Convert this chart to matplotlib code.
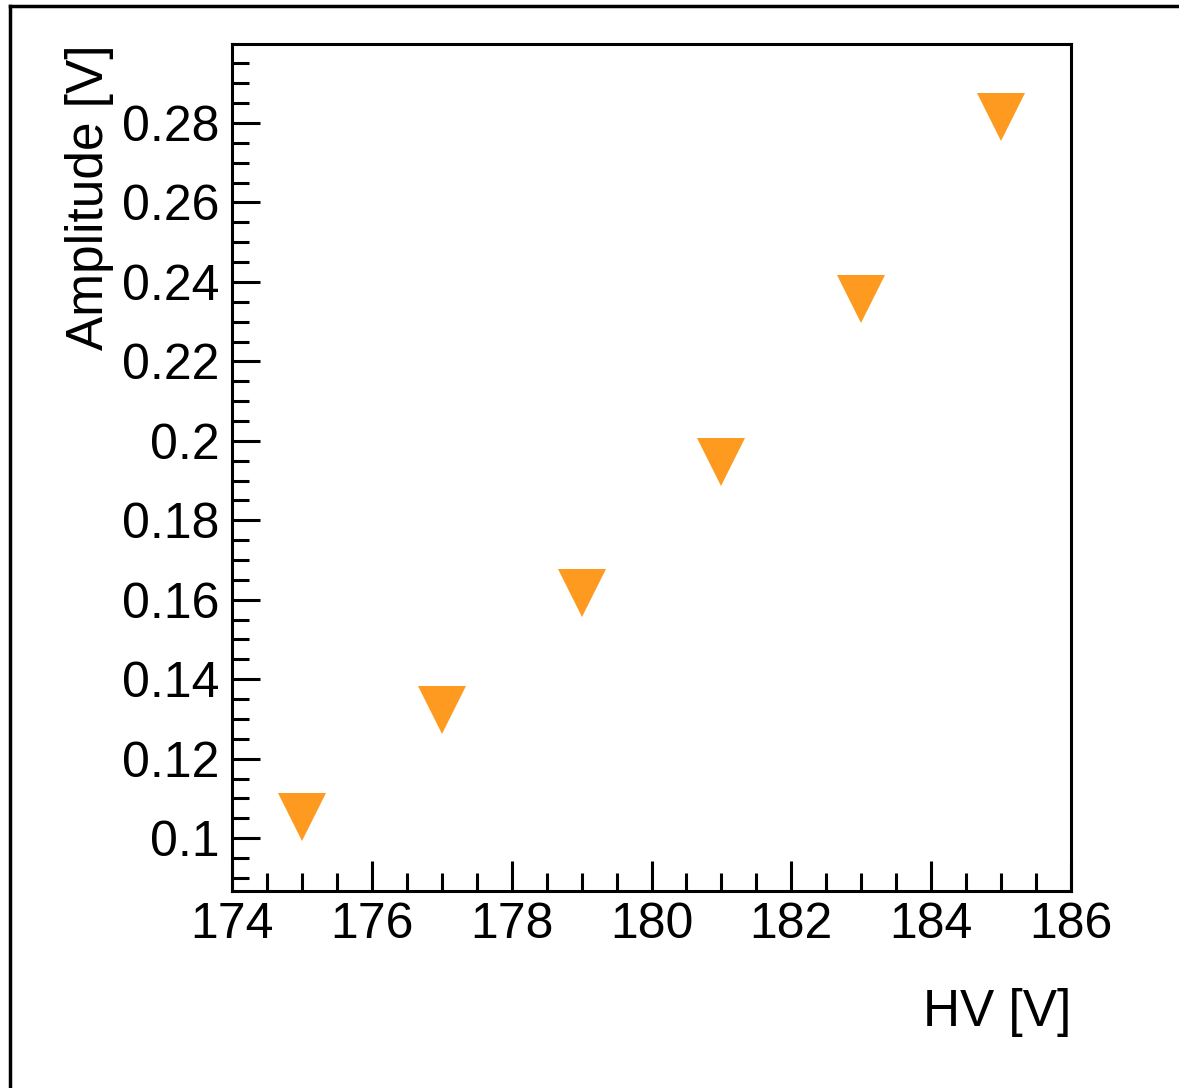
import numpy as np
import matplotlib.pyplot as plt
from matplotlib.ticker import MultipleLocator
from matplotlib.lines import Line2D

plt.rcParams['font.family'] = ['Liberation Sans', 'DejaVu Sans']

# amplitude vs. bias voltage
hv = [175, 177, 179, 181, 183, 185]
amplitude = [0.1054, 0.1323, 0.1618, 0.1946, 0.2356, 0.2816]

fig = plt.figure(figsize=(11.79, 10.88), dpi=100)
ax = fig.add_axes([0.1968, 0.1811, 0.7116, 0.7785])

ax.plot(hv, amplitude, linestyle='none', marker='v', markersize=35,
        color='#ff9a20', markeredgewidth=0)

ax.set_xlim(174, 186)
ax.set_ylim(0.0867, 0.2999)

ax.xaxis.set_major_locator(MultipleLocator(2))
ax.xaxis.set_minor_locator(MultipleLocator(0.5))
ax.yaxis.set_major_locator(MultipleLocator(0.02))
ax.yaxis.set_minor_locator(MultipleLocator(0.005))
ax.yaxis.set_major_formatter(lambda v, p: ('%.2f' % v).rstrip('0').rstrip('.'))

for s in ax.spines.values():
    s.set_linewidth(2.2)
ax.spines['top'].set_visible(True)
ax.spines['right'].set_visible(True)

ax.tick_params(which='both', direction='in', width=2.2, top=False, right=False,
               labelsize=36)
ax.tick_params(axis='x', which='major', length=21.5, pad=8)
ax.tick_params(axis='x', which='minor', length=13)
ax.tick_params(axis='y', which='major', length=20.5, pad=9)
ax.tick_params(axis='y', which='minor', length=12)

ax.set_xlabel('HV [V]', fontsize=37, ha='right', va='center')
ax.xaxis.set_label_coords(1.0, -0.144)

fig.text(90 / 1179, 1 - 44 / 1088, 'Amplitude [V]', fontsize=37,
         rotation=90, ha='center', va='top')

# canvas frame (left and top edges)
fig.add_artist(Line2D([10 / 1179, 10 / 1179], [0, 1 - 6 / 1088],
                      transform=fig.transFigure, color='black', lw=2.5))
fig.add_artist(Line2D([10 / 1179, 1], [1 - 6 / 1088, 1 - 6 / 1088],
                      transform=fig.transFigure, color='black', lw=2.5))

fig.savefig('out.png', dpi=100)
